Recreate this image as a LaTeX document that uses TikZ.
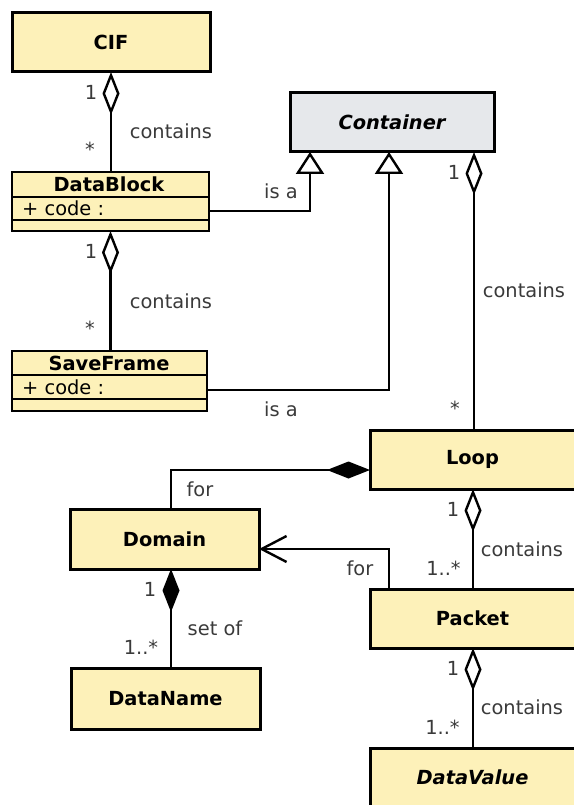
\documentclass[tikz,border=0pt]{standalone}
\usepackage{fontspec}
\setmainfont{DejaVu Sans}
\usetikzlibrary{arrows.meta}
\definecolor{clsfill}{HTML}{FDF1B9}
\definecolor{absfill}{HTML}{E6E8EB}
\definecolor{lblcol}{HTML}{3A3A3A}
\begin{document}
\begin{tikzpicture}[x=1pt,y=-1pt,
  classbox/.style={draw=black, fill=clsfill, line width=3pt, inner sep=0pt, outer sep=0pt,
    font=\fontsize{19.4}{23}\selectfont\bfseries},
  compbox/.style={draw=black, fill=clsfill, line width=2.4pt, inner sep=0pt, outer sep=0pt},
  compline/.style={line width=2.4pt},
  cname/.style={inner sep=0pt, font=\fontsize{19.4}{23}\selectfont\bfseries},
  attr/.style={inner sep=0pt, anchor=west, font=\fontsize{19.4}{23}\selectfont},
  lbl/.style={inner sep=0pt, text=lblcol, font=\fontsize{19.4}{23}\selectfont},
  conn/.style={line width=2.4pt, draw=black},
  agg/.style={conn, {Diamond[open,length=43pt,width=17pt]}-},
  comp/.style={conn, {Diamond[length=43pt,width=17pt]}-},
  gen/.style={conn, -{Triangle[open,length=22pt,width=28pt]}},
  nav/.style={conn, -{Straight Barb[length=25pt,width=26pt]}}
]
\useasboundingbox (0,0) rectangle (573,805);

% classes
\node[classbox, minimum width=198pt, minimum height=59pt] (CIF) at (111,42.5) {CIF};
\node[compbox, minimum width=197pt, minimum height=59pt] (DataBlock) at (110.5,201.5) {};
\draw[compline] (DataBlock.west |- 0,197) -- (DataBlock.east |- 0,197);
\draw[compline] (DataBlock.west |- 0,220) -- (DataBlock.east |- 0,220);
\node[cname] (DataBlockName) at (109,184) {DataBlock};
\node[attr] (DataBlockAttr) at (22,208) {+ code :};

\node[compbox, minimum width=195pt, minimum height=60pt] (SaveFrame) at (109.5,381) {};
\draw[compline] (SaveFrame.west |- 0,375) -- (SaveFrame.east |- 0,375);
\draw[compline] (SaveFrame.west |- 0,399) -- (SaveFrame.east |- 0,399);
\node[cname] (SaveFrameName) at (109,363) {SaveFrame};
\node[attr] (SaveFrameAttr) at (22,387) {+ code :};

\node[classbox, fill=absfill, minimum width=204pt, minimum height=59pt,
  font=\fontsize{19.4}{23}\selectfont\bfseries\itshape] (Container) at (392,122.5) {Container};
\node[classbox, minimum width=205pt, minimum height=59pt] (Loop) at (472.5,459.5) {Loop};
\node[classbox, minimum width=189pt, minimum height=60pt] (Domain) at (164.5,539) {Domain};
\node[classbox, minimum width=205pt, minimum height=59pt] (Packet) at (472.5,618.5) {Packet};
\node[classbox, minimum width=189pt, minimum height=61pt] (DataName) at (165.5,698.5) {DataName};
\node[classbox, minimum width=205pt, minimum height=59pt,
  font=\fontsize{19.4}{23}\selectfont\bfseries\itshape] (DataValue) at (472.5,777.5) {DataValue};

% connectors
\draw[agg] (CIF.south) -- (CIF.south |- DataBlock.north);
\draw[agg] (DataBlock.south) -- (DataBlock.south |- SaveFrame.north);
\draw[gen] ([yshift=-9.5pt]DataBlock.east) -| ([xshift=-82pt]Container.south);
\draw[gen] ([yshift=-9pt]SaveFrame.east) -| ([xshift=-3pt]Container.south);
\draw[agg] ([xshift=82pt]Container.south) -- ([xshift=82pt]Container.south |- Loop.north);
\draw[comp] ([yshift=-10.5pt]Loop.west) -| ([xshift=6.5pt]Domain.north);
\draw[nav] ([xshift=-83.5pt]Packet.north) |- ([yshift=-10pt]Domain.east);
\draw[agg] ([xshift=0.5pt]Loop.south) -- ([xshift=0.5pt]Loop.south |- Packet.north);
\draw[comp] ([xshift=6.5pt]Domain.south) -- ([xshift=6.5pt]Domain.south |- DataName.north);
\draw[agg] ([xshift=0.5pt]Packet.south) -- ([xshift=0.5pt]Packet.south |- DataValue.north);

% labels
\node[lbl] (m1) at (91,92) {1};
\node[lbl] (m2) at (90,149) {*};
\node[lbl] (r1) at (171,131) {contains};
\node[lbl] (m3) at (91,251) {1};
\node[lbl] (m4) at (90,328) {*};
\node[lbl] (r2) at (171,301) {contains};
\node[lbl] (r3) at (281,191) {is a};
\node[lbl] (r4) at (281,409) {is a};
\node[lbl] (m5) at (454,172) {1};
\node[lbl] (r5) at (524,290) {contains};
\node[lbl] (m6) at (455,408) {*};
\node[lbl] (r6) at (200,489) {for};
\node[lbl] (r7) at (360,568) {for};
\node[lbl] (m7) at (453,509) {1};
\node[lbl] (r8) at (522,549) {contains};
\node[lbl] (m8) at (443.5,568) {1..*};
\node[lbl] (m9) at (150,589) {1};
\node[lbl] (r9) at (215,628) {set of};
\node[lbl] (m10) at (141,647) {1..*};
\node[lbl] (m11) at (453,668) {1};
\node[lbl] (r10) at (522,707) {contains};
\node[lbl] (m12) at (442.5,727) {1..*};
\end{tikzpicture}
\end{document}
